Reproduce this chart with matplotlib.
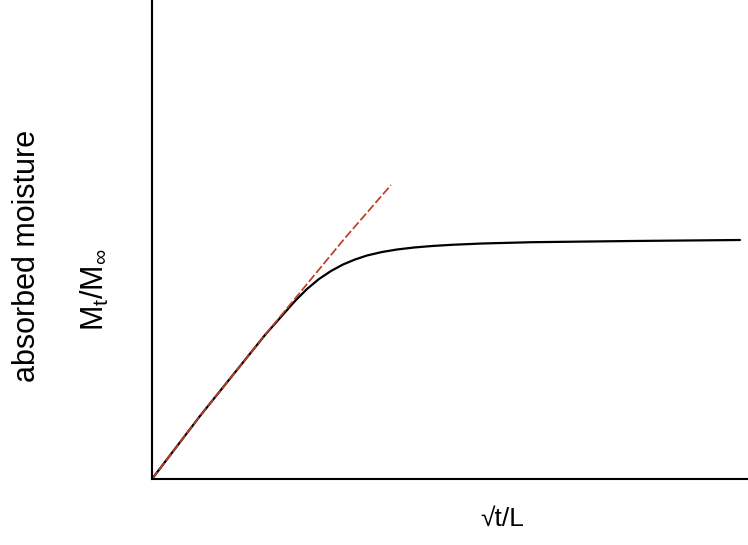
import matplotlib
matplotlib.use("Agg")
import matplotlib.pyplot as plt

# curve (x = sqrt(t)/L, y = Mt/Minf, arbitrary units)
uptake_x = [0.0, 0.48, 1.13, 1.43, 1.55, 1.67, 1.79, 1.91, 2.03, 2.15,
            2.30, 2.45, 2.62, 2.80, 3.00, 3.30, 3.80, 4.80, 5.88]
uptake_y = [0.0, 0.63, 1.44, 1.78, 1.90, 2.00, 2.08, 2.145, 2.195, 2.235,
            2.27, 2.295, 2.315, 2.33, 2.342, 2.355, 2.368, 2.38, 2.39]

# initial slope (dashed tangent)
tangent_x = [0.0, 0.48, 1.13, 1.93, 2.39]
tangent_y = [0.0, 0.63, 1.44, 2.41, 2.94]

W, H = 748, 545
fig = plt.figure(figsize=(W / 100, H / 100), dpi=100)
ax = fig.add_axes([152 / W, 1 - 479 / H, (W - 152) / W, 479 / H])

ax.plot(uptake_x, uptake_y, color="black", lw=1.6,
        solid_capstyle="round", solid_joinstyle="round")
ax.plot(tangent_x, tangent_y, color="#c23b22", lw=1.25, dashes=(5, 1.6))

ax.set_xlim(0, 5.96)
ax.set_ylim(0, 4.79)
ax.set_xticks([])
ax.set_yticks([])
for s in ("top", "right"):
    ax.spines[s].set_visible(False)
for s in ("left", "bottom"):
    ax.spines[s].set_linewidth(1.5)

sans = ["Liberation Sans", "DejaVu Sans"]
plt.rcParams["mathtext.fontset"] = "custom"
plt.rcParams["mathtext.rm"] = "Liberation Sans"
plt.rcParams["mathtext.it"] = "Liberation Sans"

fig.text(27 / W, 1 - 256 / H, "absorbed moisture", rotation=90,
         ha="center", va="center", fontsize=22, family=sans)
fig.text(95 / W, 1 - 290 / H, r"$\mathregular{M_t/M_\infty}$", rotation=90,
         ha="center", va="center", fontsize=22, family=sans)
fig.text(502 / W, 1 - 519 / H, "\u221at/L", ha="center", va="center",
         fontsize=19, family=sans)

fig.savefig("out.png", dpi=100)
